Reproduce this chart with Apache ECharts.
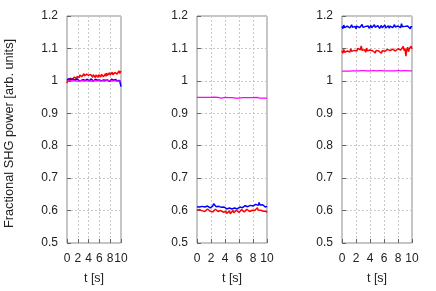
<!DOCTYPE html>
<html><head><meta charset="utf-8">
<script src="https://cdn.jsdelivr.net/npm/echarts@6/dist/echarts.min.js"></script>
<style>html,body{margin:0;padding:0;background:#fff}#c{width:436px;height:291px}</style>
</head><body><div id="c"></div>
<script>
// fine time samples (s), step 0.125 -> 81 points (red & blue traces)
const timeFine = [];
for (let k = 0; k <= 80; k++) timeFine.push(k * 0.125);
// coarse time samples (s), step 0.25 -> 41 points (magenta traces)
const timeCoarse = [];
for (let k = 0; k <= 40; k++) timeCoarse.push(k * 0.25);
const yTicks = [0.5,0.6,0.7,0.8,0.9,1.0,1.1,1.2];
const xTicks = [0,2,4,6,8,10];

// Panel 1
const p1Red = [0.993,1.004,0.998,1.006,1.001,1.008,1.003,1.010,1.005,
 1.011,1.004,1.012,1.007,1.013,1.006,1.014,1.009,
 1.016,1.010,1.018,1.012,1.020,1.013,1.019,1.014,
 1.022,1.015,1.020,1.013,1.021,1.016,1.024,1.017,
 1.019,1.012,1.020,1.014,1.018,1.011,1.019,1.015,
 1.017,1.010,1.018,1.013,1.016,1.011,1.019,1.014,
 1.018,1.012,1.020,1.015,1.021,1.013,1.019,1.016,
 1.022,1.014,1.024,1.017,1.021,1.015,1.025,1.018,
 1.023,1.016,1.027,1.019,1.024,1.015,1.026,1.020,
 1.029,1.021,1.027,1.019,1.031,1.023,1.028,1.030];
const p1Blue = [1.004,1.009,1.001,1.007,1.002,1.008,1.003,1.006,1.000,
 1.005,1.001,1.007,1.002,1.004,0.999,1.006,1.002,
 1.004,1.000,1.006,1.003,1.001,1.005,1.000,1.004,
 1.002,1.006,1.001,1.003,0.999,1.005,1.002,1.004,
 1.000,1.004,1.001,1.006,1.002,1.003,0.999,1.004,
 1.001,1.005,1.000,1.003,1.002,1.005,0.999,1.003,
 1.001,1.004,1.000,1.005,1.002,1.003,0.999,1.004,
 1.002,1.005,1.000,1.003,1.001,1.004,0.998,1.003,
 1.001,1.005,1.000,1.004,1.002,1.003,0.999,1.004,
 1.001,1.004,1.000,1.003,1.002,1.001,0.997,0.982];
const p1Mag = [1.000,1.001,1.000,0.999,1.000,1.001,1.000,1.000,0.999,1.000,1.001,1.000,1.000,0.999,1.000,1.001,1.000,1.000,0.999,1.000,1.001,1.000,1.000,0.999,1.000,1.001,1.000,1.000,0.999,1.000,1.001,1.000,1.000,0.999,1.000,1.001,1.000,1.000,0.999,1.000,1.000];

// Panel 2
const p2Red = [0.601,0.605,0.598,0.603,0.600,0.606,0.599,0.604,0.601,
 0.597,0.603,0.599,0.605,0.600,0.602,0.598,0.604,
 0.600,0.596,0.602,0.598,0.604,0.599,0.601,0.597,
 0.602,0.596,0.600,0.594,0.599,0.595,0.601,0.596,
 0.598,0.591,0.597,0.593,0.599,0.590,0.596,0.594,
 0.600,0.593,0.598,0.595,0.601,0.596,0.599,0.594,
 0.600,0.597,0.603,0.598,0.601,0.596,0.602,0.599,
 0.604,0.598,0.602,0.597,0.603,0.599,0.601,0.597,
 0.603,0.600,0.606,0.601,0.609,0.602,0.600,0.596,
 0.601,0.597,0.603,0.598,0.600,0.595,0.598,0.594];
const p2Blue = [0.612,0.609,0.614,0.611,0.615,0.610,0.613,0.609,0.614,
 0.611,0.613,0.609,0.614,0.610,0.612,0.608,0.613,
 0.610,0.614,0.621,0.615,0.618,0.612,0.615,0.611,
 0.613,0.609,0.614,0.610,0.612,0.607,0.611,0.608,
 0.610,0.605,0.609,0.604,0.608,0.603,0.607,0.605,
 0.609,0.604,0.608,0.603,0.607,0.605,0.610,0.606,
 0.611,0.607,0.612,0.609,0.614,0.610,0.615,0.611,
 0.616,0.612,0.614,0.610,0.616,0.613,0.617,0.614,
 0.618,0.614,0.619,0.615,0.620,0.616,0.625,0.617,
 0.619,0.613,0.618,0.612,0.616,0.611,0.615,0.613];
const p2Mag = [0.949,0.950,0.949,0.948,0.949,0.950,0.949,0.948,0.949,0.949,0.950,0.948,0.949,0.948,0.947,0.948,0.949,0.947,0.948,0.947,0.948,0.947,0.947,0.948,0.947,0.948,0.948,0.947,0.948,0.949,0.948,0.947,0.948,0.948,0.949,0.948,0.947,0.948,0.947,0.946,0.947];

// Panel 3
const p3Red = [1.093,1.085,1.097,1.088,1.094,1.083,1.092,1.087,1.096,
 1.089,1.099,1.091,1.095,1.086,1.094,1.090,1.097,
 1.092,1.100,1.094,1.103,1.096,1.108,1.094,1.099,
 1.090,1.096,1.088,1.101,1.093,1.098,1.087,1.095,
 1.091,1.099,1.093,1.089,1.096,1.086,1.094,1.090,
 1.097,1.092,1.088,1.094,1.085,1.093,1.089,1.096,
 1.091,1.095,1.088,1.097,1.092,1.099,1.093,1.096,
 1.090,1.098,1.094,1.101,1.092,1.097,1.088,1.099,
 1.094,1.103,1.095,1.099,1.091,1.106,1.093,1.100,
 1.076,1.095,1.104,1.090,1.099,1.093,1.107,1.098];
const p3Blue = [1.168,1.161,1.172,1.164,1.170,1.162,1.169,1.165,1.171,
 1.163,1.168,1.173,1.165,1.170,1.164,1.168,1.161,
 1.169,1.166,1.172,1.164,1.170,1.167,1.174,1.165,
 1.170,1.163,1.168,1.172,1.165,1.169,1.162,1.167,
 1.171,1.164,1.169,1.166,1.173,1.165,1.168,1.163,
 1.170,1.166,1.162,1.168,1.171,1.164,1.169,1.165,
 1.172,1.163,1.168,1.166,1.170,1.162,1.169,1.165,
 1.171,1.164,1.168,1.173,1.166,1.170,1.163,1.169,
 1.166,1.172,1.164,1.176,1.167,1.170,1.162,1.168,
 1.171,1.165,1.169,1.163,1.167,1.161,1.168,1.165];
const p3Mag = [1.030,1.031,1.030,1.031,1.030,1.030,1.031,1.032,1.031,1.030,1.031,1.031,1.032,1.031,1.031,1.032,1.031,1.031,1.032,1.031,1.031,1.031,1.032,1.031,1.031,1.032,1.031,1.031,1.031,1.032,1.031,1.031,1.032,1.031,1.031,1.031,1.032,1.031,1.031,1.032,1.031];

const panels = [
  {left:67, width:54, red:p1Red, blue:p1Blue, mag:p1Mag, order:['red','blue','mag']},
  {left:197, width:70, red:p2Red, blue:p2Blue, mag:p2Mag, order:['mag','red','blue']},
  {left:342, width:70, red:p3Red, blue:p3Blue, mag:p3Mag, order:['mag','red','blue']}
];
const colors = {red:'#ff0000', blue:'#0000ff', mag:'#ff00ff'};
const font = 'Liberation Sans, Arial, sans-serif';
const grids=[], xAxes=[], yAxes=[], series=[];
panels.forEach((p,i)=>{
  grids.push({left:p.left, width:p.width, top:16, bottom:48, show:true, borderColor:'#8a8a8a', borderWidth:1, backgroundColor:'transparent'});
  xAxes.push({type:'value', gridIndex:i, min:xTicks[0], max:xTicks[xTicks.length-1], interval:2,
    name:'t [s]', nameLocation:'middle', nameGap:29, nameTextStyle:{fontFamily:font, fontSize:12.5, color:'#222'},
    axisLine:{show:false}, axisTick:{show:true, inside:true, length:4, lineStyle:{color:'#666'}},
    axisLabel:{fontFamily:font, fontSize:12, color:'#222', margin:10},
    splitLine:{show:true, lineStyle:{color:'#c8c8c8', type:[2,2], width:1}}});
  yAxes.push({type:'value', gridIndex:i, min:yTicks[0], max:yTicks[yTicks.length-1], interval:0.1,
    name: i===0 ? 'Fractional SHG power [arb. units]' : '', nameLocation:'middle', nameGap:51,
    nameTextStyle:{fontFamily:font, fontSize:12.8, color:'#222', padding:[0,8,0,0]},
    axisLine:{show:false}, axisTick:{show:true, inside:true, length:4, lineStyle:{color:'#666'}},
    axisLabel:{fontFamily:font, fontSize:12, color:'#222', margin:9, formatter:v=>String(+v.toFixed(1))},
    splitLine:{show:true, lineStyle:{color:'#c8c8c8', type:[2,2], width:1}}});
  p.order.forEach(k=>{
    const ts = k==='mag' ? timeCoarse : timeFine;
    series.push({type:'line', xAxisIndex:i, yAxisIndex:i, showSymbol:false, animation:false, sampling:null,
      data: ts.map((t,j)=>[t,p[k][j]]), lineStyle:{color:colors[k], width:k==='mag'?1.2:1.5}, itemStyle:{color:colors[k]}});
  });
});
const chart = echarts.init(document.getElementById('c'), null, {renderer:'canvas'});
chart.setOption({animation:false, grid:grids, xAxis:xAxes, yAxis:yAxes, series:series});
</script></body></html>
